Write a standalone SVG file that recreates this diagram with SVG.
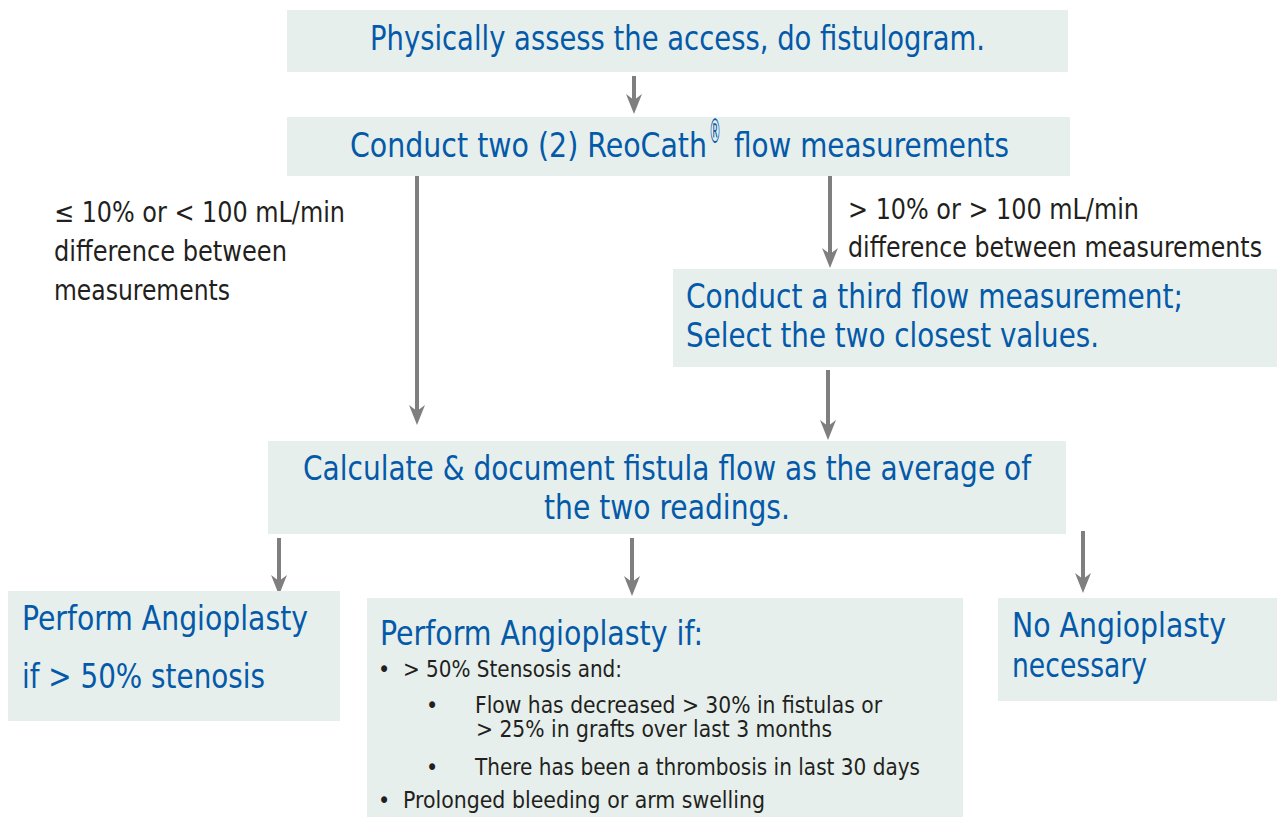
<svg xmlns="http://www.w3.org/2000/svg" width="1277" height="817" viewBox="0 0 1277 817">
  <style>
    .box { fill: #e6efec; }
    .blue { fill: #0459a8; font-family: "Liberation Sans Narrow", "DejaVu Sans Condensed", "Liberation Sans", sans-serif; font-size: 34px; }
    .lbl { fill: #231f20; font-family: "Liberation Sans Narrow", "DejaVu Sans Condensed", "Liberation Sans", sans-serif; font-size: 28px; }
    .small { fill: #231f20; font-family: "Liberation Sans Narrow", "DejaVu Sans Condensed", "Liberation Sans", sans-serif; font-size: 23px; }
    .conn { stroke: #7f7f7f; stroke-width: 4; fill: none; marker-end: url(#head); }
  </style>
  <defs>
    <marker id="head" markerUnits="userSpaceOnUse" markerWidth="20" markerHeight="16" refX="8" refY="8" orient="auto">
      <path d="M0,0 L20,8 L0,16 L6,8 z" fill="#7f7f7f"/>
    </marker>
  </defs>
  <rect width="1277" height="817" fill="#ffffff"/>

  <!-- connectors -->
  <g id="connectors">
    <line class="conn" x1="634" y1="76" x2="634" y2="102"/>
    <line class="conn" x1="417" y1="172" x2="417" y2="413"/>
    <line class="conn" x1="830" y1="176" x2="830" y2="256"/>
    <line class="conn" x1="828" y1="370" x2="828" y2="428"/>
    <line class="conn" x1="279" y1="538" x2="279" y2="583"/>
    <line class="conn" x1="632" y1="538" x2="632" y2="584"/>
    <line class="conn" x1="1083" y1="531" x2="1083" y2="581"/>
  </g>

  <!-- branch labels -->
  <g id="label-within">
    <text class="lbl" x="54" y="222" textLength="291" lengthAdjust="spacingAndGlyphs">≤ 10% or &lt; 100 mL/min</text>
    <text class="lbl" x="54" y="261" textLength="233" lengthAdjust="spacingAndGlyphs">difference between</text>
    <text class="lbl" x="54" y="300" textLength="176" lengthAdjust="spacingAndGlyphs">measurements</text>
  </g>
  <g id="label-over">
    <text class="lbl" x="848" y="219" textLength="291" lengthAdjust="spacingAndGlyphs">&gt; 10% or &gt; 100 mL/min</text>
    <text class="lbl" x="848" y="257" textLength="414" lengthAdjust="spacingAndGlyphs">difference between measurements</text>
  </g>

  <g id="assess">
    <rect class="box" x="287" y="10" width="781" height="62"/>
    <text class="blue" x="370" y="50" textLength="615" lengthAdjust="spacingAndGlyphs">Physically assess the access, do fistulogram.</text>
  </g>

  <g id="measure-two">
    <rect class="box" x="287" y="117" width="783" height="59"/>
    <text class="blue" x="350" y="157" textLength="357" lengthAdjust="spacingAndGlyphs">Conduct two (2) ReoCath</text>
    <text class="blue" x="709" y="143" font-size="14" textLength="12" lengthAdjust="spacingAndGlyphs">®</text>
    <text class="blue" x="734" y="157" textLength="275" lengthAdjust="spacingAndGlyphs">flow measurements</text>
  </g>

  <g id="measure-third">
    <rect class="box" x="673" y="269" width="604" height="98"/>
    <text class="blue" x="686" y="308" textLength="497" lengthAdjust="spacingAndGlyphs">Conduct a third flow measurement;</text>
    <text class="blue" x="686" y="347" textLength="413" lengthAdjust="spacingAndGlyphs">Select the two closest values.</text>
  </g>

  <g id="calculate">
    <rect class="box" x="268" y="441" width="798" height="93"/>
    <text class="blue" x="303" y="480" textLength="728" lengthAdjust="spacingAndGlyphs">Calculate &amp; document fistula flow as the average of</text>
    <text class="blue" x="544" y="519" textLength="246" lengthAdjust="spacingAndGlyphs">the two readings.</text>
  </g>

  <g id="angioplasty-stenosis">
    <rect class="box" x="8" y="591" width="332" height="130"/>
    <text class="blue" x="22" y="630" textLength="286" lengthAdjust="spacingAndGlyphs">Perform Angioplasty</text>
    <text class="blue" x="22" y="688" textLength="243" lengthAdjust="spacingAndGlyphs">if &gt; 50% stenosis</text>
  </g>

  <g id="angioplasty-if">
    <rect class="box" x="367" y="598" width="596" height="219"/>
    <text class="blue" x="380" y="645" textLength="323" lengthAdjust="spacingAndGlyphs">Perform Angioplasty if:</text>
    <text class="small" x="378" y="677">•</text>
    <text class="small" x="403" y="677" textLength="219" lengthAdjust="spacingAndGlyphs">&gt; 50% Stensosis and:</text>
    <text class="small" x="426" y="713">•</text>
    <text class="small" x="475" y="713" textLength="407" lengthAdjust="spacingAndGlyphs">Flow has decreased &gt; 30% in fistulas or</text>
    <text class="small" x="476" y="737" textLength="356" lengthAdjust="spacingAndGlyphs">&gt; 25% in grafts over last 3 months</text>
    <text class="small" x="426" y="775">•</text>
    <text class="small" x="475" y="775" textLength="445" lengthAdjust="spacingAndGlyphs">There has been a thrombosis in last 30 days</text>
    <text class="small" x="378" y="808">•</text>
    <text class="small" x="403" y="808" textLength="362" lengthAdjust="spacingAndGlyphs">Prolonged bleeding or arm swelling</text>
  </g>

  <g id="no-angioplasty">
    <rect class="box" x="998" y="598" width="279" height="103"/>
    <text class="blue" x="1012" y="637" textLength="214" lengthAdjust="spacingAndGlyphs">No Angioplasty</text>
    <text class="blue" x="1012" y="677" textLength="135" lengthAdjust="spacingAndGlyphs">necessary</text>
  </g>
</svg>
